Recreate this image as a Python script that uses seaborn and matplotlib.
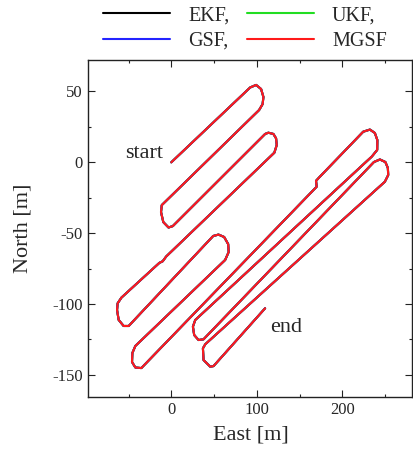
import numpy as np
import pandas as pd
import matplotlib
matplotlib.use("Agg")
import matplotlib.pyplot as plt
import seaborn as sns
from matplotlib import patheffects as pe
from matplotlib.ticker import MultipleLocator

# ---------------- data ----------------
filters = ["EKF", "UKF", "GSF", "MGSF"]
legend_labels = ["EKF,", "UKF,", "GSF,", "MGSF"]
filter_colors = ["#000000", "#22dd22", "#2424ff", "#ff1a1a"]

# estimated trajectory (East / North, metres), common to all filters
east = [0.0,
        92.2, 99.2, 105.0, 107.7, 106.8, 102.7,
        -5.0, -11.1, -12.0, -9.3, -3.2, 1.8,
        109.7, 113.5, 119.4, 122.5, 123.3, 120.5,
        -6.0, -10.0, -14.0,
        -58.3, -62.7, -63.4, -61.5, -55.7, -49.8,
        49.0, 55.2, 61.8, 66.5, 67.1, 63.0,
        -42.0, -45.5, -45.9, -42.0, -35.0,
        170.0, 169.2, 173.0,
        224.4, 232.2, 238.0, 240.9, 240.7, 234.5,
        28.0, 25.3, 26.8, 31.9, 37.7,
        236.9, 243.9, 250.3, 253.2, 253.6, 249.7,
        39.7, 37.0, 37.7, 45.5, 49.4,
        109.7]
north = [0.0,
         52.8, 54.6, 51.7, 46.1, 41.1, 36.9,
         -26.6, -30.2, -35.1, -42.2, -46.0, -45.0,
         20.0, 20.9, 20.0, 16.9, 12.2, 6.8,
         -66.5, -69.8, -71.0,
         -95.5, -99.5, -104.2, -111.2, -115.5, -115.5,
         -52.0, -51.0, -52.7, -57.7, -63.3, -68.9,
         -129.6, -134.6, -140.9, -144.8, -145.2,
         -17.2, -13.1, -10.6,
         21.6, 23.1, 20.7, 15.7, 8.7, 4.1,
         -111.3, -116.0, -121.9, -125.4, -124.9,
         0.2, 2.0, 0.2, -4.0, -9.0, -13.7,
         -128.4, -131.3, -139.5, -144.2, -143.8,
         -103.0]

x_ticks = [0, 100, 200]
y_ticks = [-150, -100, -50, 0, 50]

# ---------------- style ----------------
sns.set_style("ticks")
plt.rcParams["font.family"] = ["Liberation Serif", "DejaVu Serif"]
plt.rcParams["axes.unicode_minus"] = False

W, H = 414, 459
fig = plt.figure(figsize=(W / 100, H / 100), dpi=100)
ax = fig.add_axes([88.3 / W, 1 - 396.7 / H, (412.5 - 88.3) / W, (396.7 - 60) / H])

# slight render offsets so the underlying estimates peek out like in the reference
offsets = {"EKF": (-0.5, 0.4), "UKF": (-0.3, 0.5), "GSF": (0.8, -0.8), "MGSF": (0, 0)}

df = pd.DataFrame({"East": east, "North": north})
for f, lab, col in zip(filters, legend_labels, filter_colors):
    sns.lineplot(data=df, x="East", y="North", sort=False, estimator=None,
                 color=col, lw=1.5, ax=ax, label=lab)
    ln = ax.lines[-1]
    ln.set_solid_joinstyle("round")
    ln.set_solid_capstyle("round")
    ox, oy = offsets[f]
    if (ox, oy) != (0, 0):
        ln.set_path_effects([pe.Stroke(offset=(ox, oy))])

handles, labels = ax.get_legend_handles_labels()
if ax.get_legend() is not None:
    ax.get_legend().remove()
for h in handles:
    h.set_path_effects([])
order = [0, 2, 1, 3]
fig.legend([handles[i] for i in order], [labels[i] for i in order],
           ncol=2, loc="center", bbox_to_anchor=(0.592, 0.938),
           frameon=False, fontsize=14.5, handlelength=3.3,
           handletextpad=0.9, columnspacing=0.9, labelspacing=0.3)

ax.text(-31.5, 3.0, "start", ha="center", va="baseline", fontsize=16)
ax.text(133.8, -119.5, "end", ha="center", va="baseline", fontsize=16)

ax.set_xlim(-97, 282)
ax.set_ylim(-165.4, 72.2)
ax.set_xticks(x_ticks)
ax.set_yticks(y_ticks)
ax.xaxis.set_minor_locator(MultipleLocator(50))
ax.yaxis.set_minor_locator(MultipleLocator(25))
ax.tick_params(which="both", direction="in", top=True, right=True,
               color="#222222", width=0.8, labelsize=12)
ax.tick_params(which="major", length=5, pad=4)
ax.tick_params(which="minor", length=2.5)
for s in ax.spines.values():
    s.set_visible(True)
    s.set_linewidth(1.0)
    s.set_color("#222222")

ax.set_xlabel("East [m]", fontsize=16, labelpad=5)
ax.set_ylabel("North [m]", fontsize=16, labelpad=14)

fig.savefig("out.png", dpi=100)
